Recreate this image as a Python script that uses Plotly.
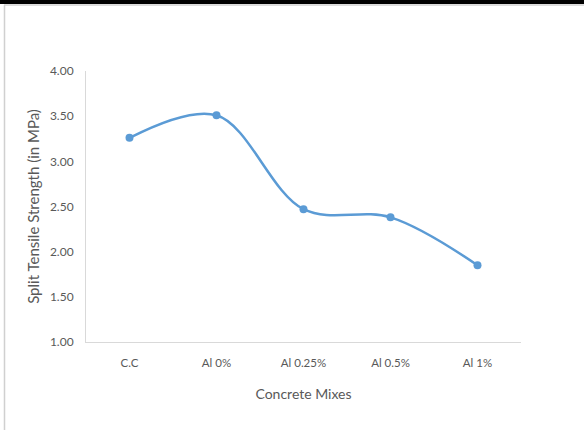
import plotly.graph_objects as go

# Split tensile strength for each concrete mix
mixes = ["C.C", "Al 0%", "Al 0.25%", "Al 0.5%", "Al 1%"]
strength = [3.26, 3.51, 2.47, 2.38, 1.85]
y_ticks = [1.0, 1.5, 2.0, 2.5, 3.0, 3.5, 4.0]

W, H = 584, 430
ML, MR, MT, MB = 86, 63, 71, 88
PW, PH = W - ML - MR, H - MT - MB

def px_x(x):
    return (x - ML) / PW

def px_y(y):
    return (H - MB - y) / PH

fig = go.Figure()
fig.add_trace(go.Scatter(
    x=mixes, y=strength,
    mode="lines+markers",
    line=dict(color="#5B9BD5", width=2.5, shape="spline", smoothing=1.0),
    marker=dict(color="#5B9BD5", size=8),
    showlegend=False,
    hoverinfo="x+y",
))

font = "Lato, 'Open Sans', sans-serif"
fig.update_layout(
    width=W, height=H,
    margin=dict(l=ML, r=MR, t=MT, b=MB),
    paper_bgcolor="white", plot_bgcolor="white",
    font=dict(family=font, color="#595959"),
    xaxis=dict(
        type="category", range=[-0.5, 4.5],
        showline=True, linecolor="#D9D9D9", linewidth=1,
        showgrid=False, zeroline=False, ticks="",
        tickfont=dict(size=11.5, color="#595959"),
        ticklabelstandoff=10,
        title=dict(text="Concrete Mixes", font=dict(size=14, color="#595959"), standoff=21),
    ),
    yaxis=dict(
        range=[1.0, 4.0], tickvals=y_ticks,
        ticktext=[f"{v:.2f}" for v in y_ticks],
        showline=True, linecolor="#D9D9D9", linewidth=1,
        showgrid=False, zeroline=False, ticks="",
        tickfont=dict(size=12, color="#595959"),
        ticklabelstandoff=9,
        title=dict(text="Split Tensile Strength (in MPa)", font=dict(size=15, color="#595959"), standoff=6),
    ),
    shapes=[
        # black strip across the top edge
        dict(type="rect", xref="paper", yref="paper",
             x0=px_x(0), x1=px_x(W), y0=px_y(4), y1=px_y(-2),
             fillcolor="black", line=dict(width=0), layer="above"),
        # thin frame lines along the top and left
        dict(type="line", xref="paper", yref="paper",
             x0=px_x(4), x1=px_x(W), y0=px_y(5), y1=px_y(5),
             line=dict(color="#D0D0D0", width=1.5)),
        dict(type="line", xref="paper", yref="paper",
             x0=px_x(4.5), x1=px_x(4.5), y0=px_y(5), y1=px_y(H + 2),
             line=dict(color="#D0D0D0", width=1.5)),
    ],
)

fig.write_html("out.html")
